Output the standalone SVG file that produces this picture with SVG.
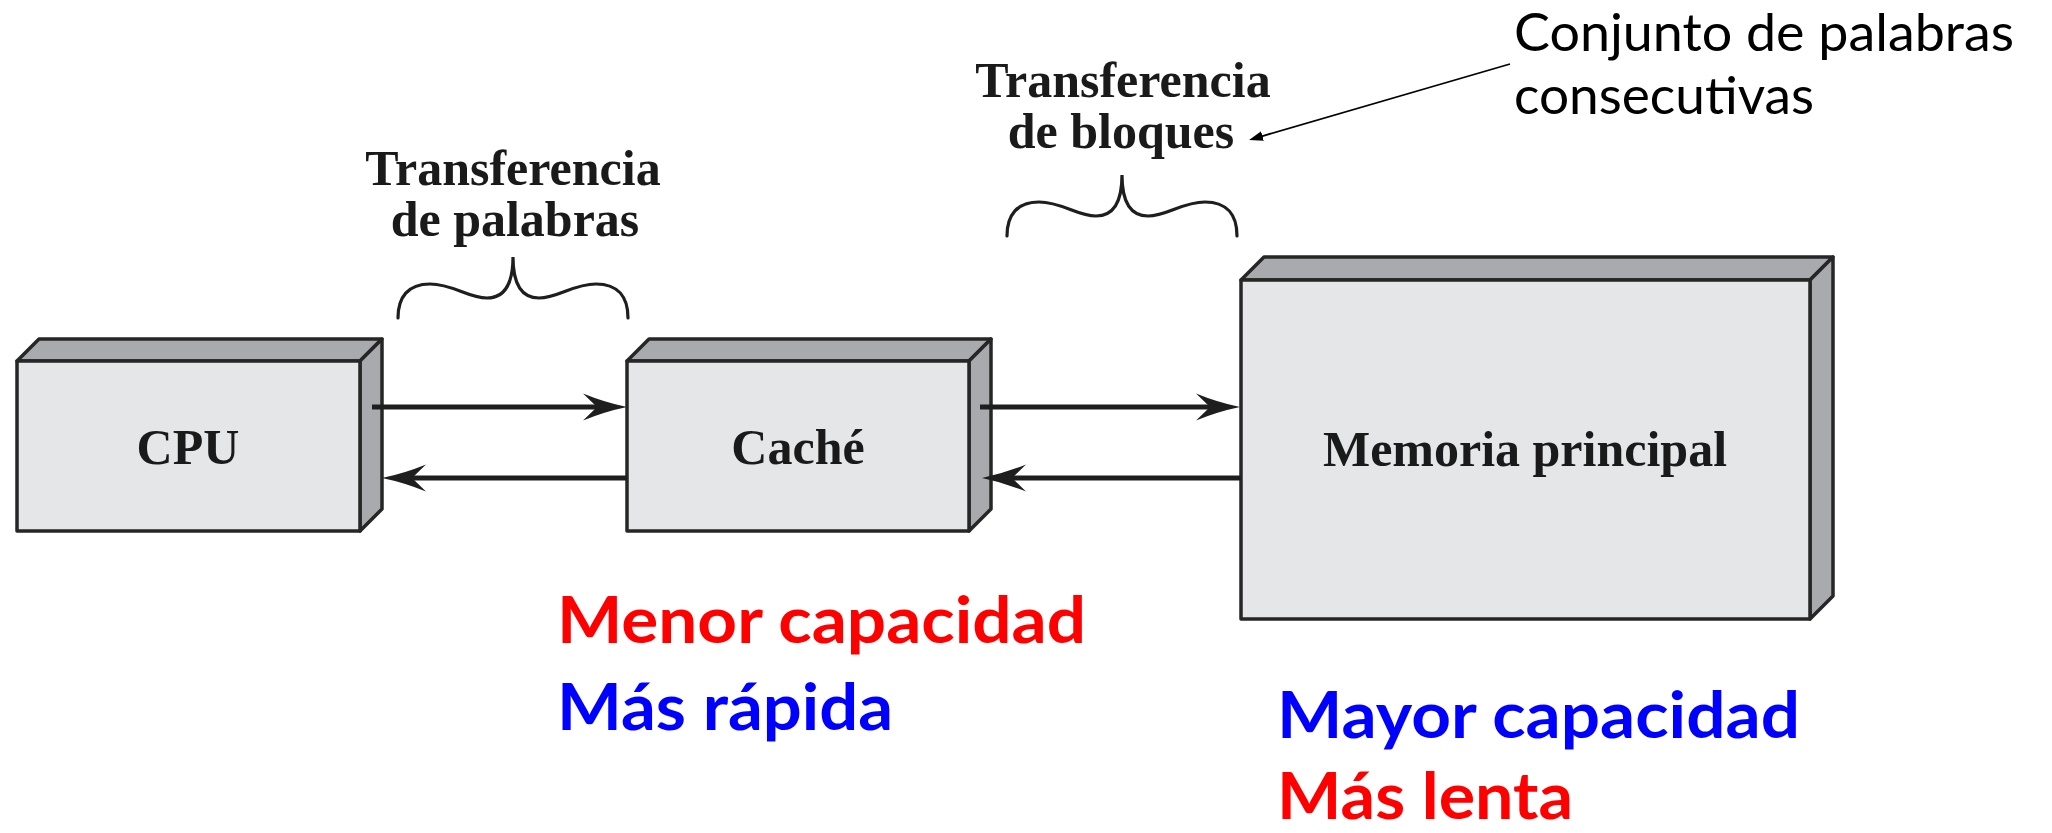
<svg xmlns="http://www.w3.org/2000/svg" width="2052" height="833" viewBox="0 0 2052 833">
  <style>
    .face { fill: #e5e6e8; stroke: #262626; stroke-width: 3.5; stroke-linejoin: round; }
    .shade { fill: #a9aaae; stroke: #262626; stroke-width: 3.5; stroke-linejoin: round; }
    .lbl { font-family: "Liberation Serif", "Times New Roman", serif; font-weight: bold; font-size: 50px; fill: #1a1a1a; text-anchor: middle; }
    .conn { stroke: #1e1e1e; stroke-width: 5; fill: none; marker-end: url(#bigArrow); }
    .brace { stroke: #1e1e1e; stroke-width: 3.2; fill: none; stroke-linecap: round; }
    .note { font-family: Lato, "Liberation Sans", sans-serif; font-size: 53px; fill: #000; }
    .big { font-family: Lato, "Liberation Sans", sans-serif; font-weight: bold; font-size: 65px; }
    .red { fill: #ff0000; }
    .blue { fill: #0000ff; }
  </style>
  <defs>
    <marker id="bigArrow" viewBox="0 0 44 28" refX="24" refY="14" markerWidth="44" markerHeight="28" markerUnits="userSpaceOnUse" orient="auto">
      <path d="M0,0.5 Q22,9.5 44,14 Q22,18.5 0,27.5 L14,14 Z" fill="#1e1e1e"/>
    </marker>
    <marker id="smallArrow" viewBox="0 0 14 10" refX="8" refY="5" markerWidth="14" markerHeight="10" markerUnits="userSpaceOnUse" orient="auto">
      <path d="M0,0 L14,5 L0,10 Z" fill="#000"/>
    </marker>
    <path id="bracePath" d="M-115,61 C-115,40 -105,27 -83,27 C-60,27 -45,41 -26,41 C-10,41 0,30 0,0 C0,30 10,41 26,41 C45,41 60,27 83,27 C105,27 115,40 115,61"/>
  </defs>

  <rect x="0" y="0" width="2052" height="833" fill="#ffffff"/>

  <g id="cpu">
    <polygon class="shade" points="17,361 39,339 382,339 360,361"/>
    <polygon class="shade" points="360,361 382,339 382,509 360,531"/>
    <rect class="face" x="17" y="361" width="343" height="170"/>
    <text class="lbl" x="188" y="464">CPU</text>
  </g>

  <g id="cache">
    <polygon class="shade" points="627,361 649,339 991,339 969,361"/>
    <polygon class="shade" points="969,361 991,339 991,509 969,531"/>
    <rect class="face" x="627" y="361" width="342" height="170"/>
    <text class="lbl" x="798" y="464">Caché</text>
  </g>

  <g id="memoria">
    <polygon class="shade" points="1241,280 1264,257 1833,257 1810,280"/>
    <polygon class="shade" points="1810,280 1833,257 1833,596 1810,619"/>
    <rect class="face" x="1241" y="280" width="569" height="339"/>
    <text class="lbl" x="1525" y="466">Memoria principal</text>
  </g>

  <g id="connectors">
    <line class="conn" x1="372" y1="407" x2="607" y2="407"/>
    <line class="conn" x1="627" y1="478" x2="402" y2="478"/>
    <line class="conn" x1="980" y1="407" x2="1220" y2="407"/>
    <line class="conn" x1="1241" y1="478" x2="1002" y2="478"/>
    <line x1="1510" y1="64" x2="1254.8" y2="138.3" stroke="#000" stroke-width="1.8" marker-end="url(#smallArrow)"/>
  </g>

  <g id="label-palabras">
    <text class="lbl" x="513" y="185">Transferencia</text>
    <text class="lbl" x="515" y="236">de palabras</text>
    <use href="#bracePath" class="brace" transform="translate(513,257)"/>
  </g>

  <g id="label-bloques">
    <text class="lbl" x="1123" y="97">Transferencia</text>
    <text class="lbl" x="1121" y="148">de bloques</text>
    <use href="#bracePath" class="brace" transform="translate(1122,175)"/>
  </g>

  <g id="note">
    <text class="note" x="1514" y="51" textLength="500" lengthAdjust="spacingAndGlyphs">Conjunto de palabras</text>
    <text class="note" x="1514" y="114" textLength="300" lengthAdjust="spacingAndGlyphs">consecutivas</text>
  </g>

  <g id="cache-props">
    <text class="big red" x="557" y="643" textLength="529" lengthAdjust="spacingAndGlyphs">Menor capacidad</text>
    <text class="big blue" x="557" y="730" textLength="336" lengthAdjust="spacingAndGlyphs">Más rápida</text>
  </g>

  <g id="memoria-props">
    <text class="big blue" x="1277" y="738" textLength="523" lengthAdjust="spacingAndGlyphs">Mayor capacidad</text>
    <text class="big red" x="1277" y="819" textLength="296" lengthAdjust="spacingAndGlyphs">Más lenta</text>
  </g>
</svg>
